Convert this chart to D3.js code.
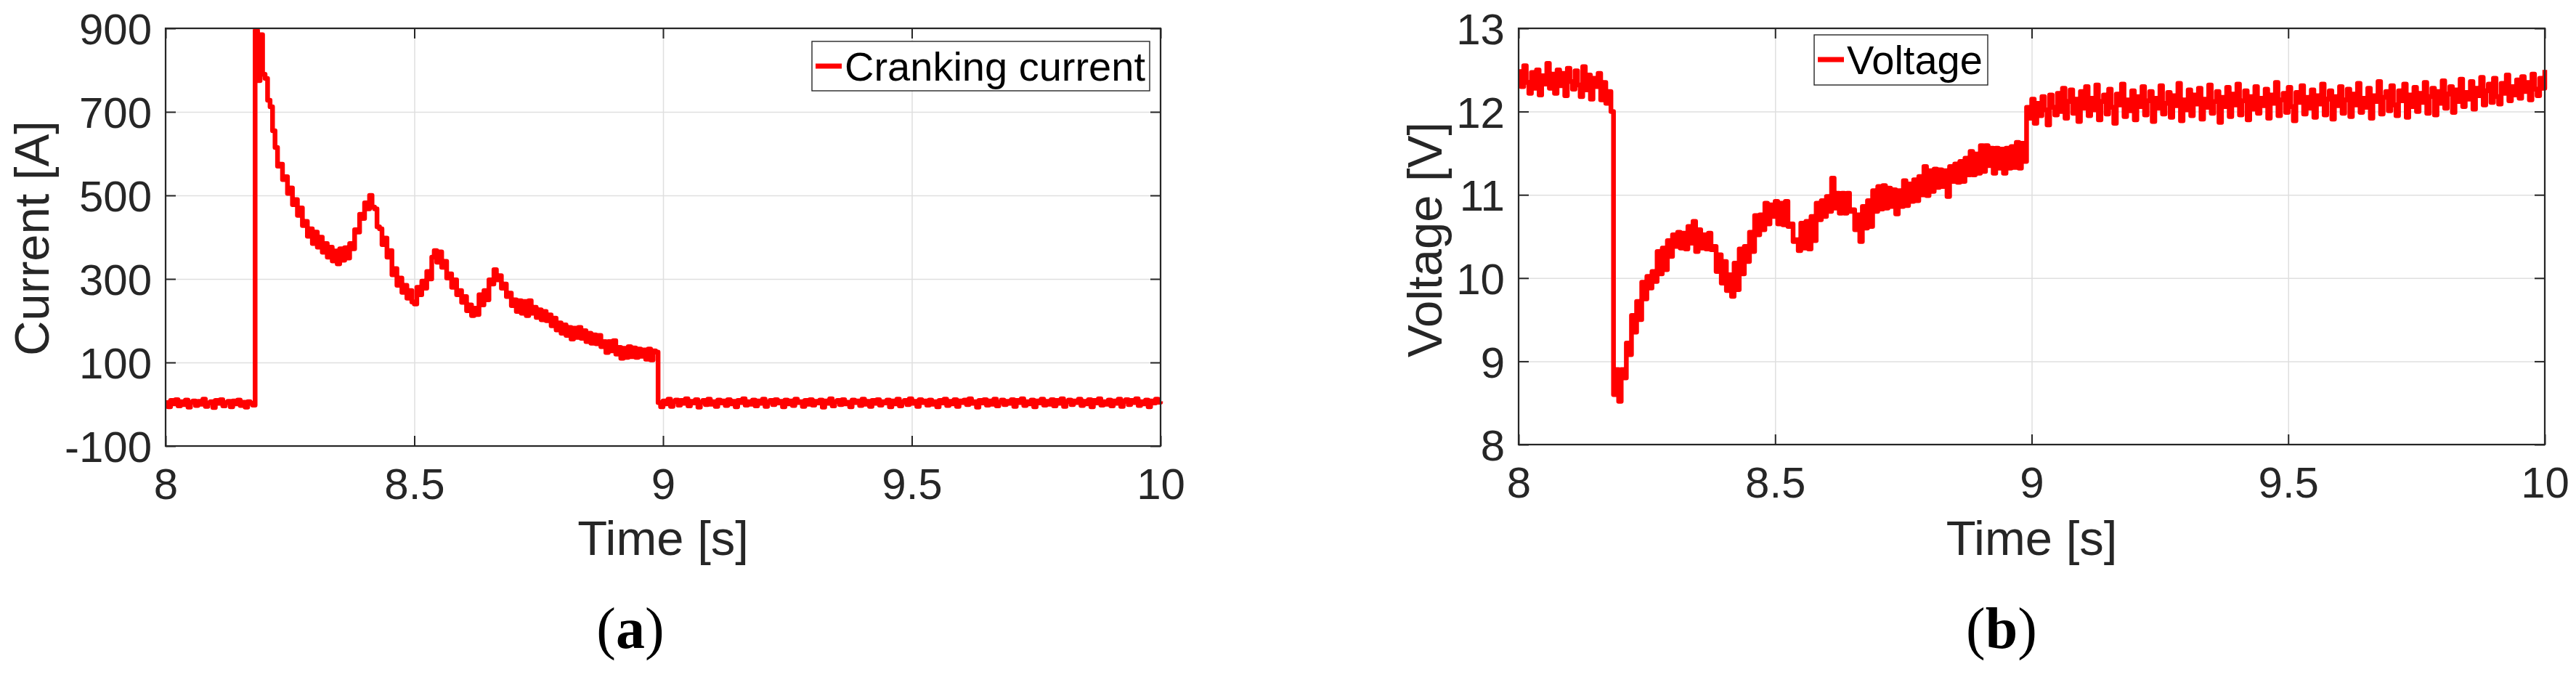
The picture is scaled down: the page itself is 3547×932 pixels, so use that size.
<!DOCTYPE html>
<html>
<head>
<meta charset="utf-8">
<script src="https://cdn.jsdelivr.net/npm/d3@7"></script>
<style>
  html, body { margin: 0; padding: 0; background: #fff; }
  svg { display: block; }
</style>
</head>
<body>
<div id="chart"></div>
<script>
// tick values
var timeTicks = [8, 8.5, 9, 9.5, 10];
var currentTicks = [-100, 100, 300, 500, 700, 900];
var voltageTicks = [8, 9, 10, 11, 12, 13];

// cranking current [A], 5 ms apart inside each segment
var currentIdle = [4, -6, 9, 1, 11, -4, 6, -1, 10, -7, 5, 8, -3, 7, 0, 12, -5, 3, 6, -8,
  9, 2, 11, -4, 4, 7, -6, 8, 1, 10, -3, 5, -7, 6, 2, -2];            // 8.000 - 8.175 s
var currentCrank = [895, 775, 885, 790, 780, 728, 712, 655, 615, 570,
  575, 538, 545, 505, 518, 478, 490, 452, 470, 428,
  438, 402, 420, 385, 412, 376, 400, 364, 385, 352,
  376, 343, 367, 336, 372, 345, 375, 350, 385, 372,
  418, 412, 455, 445, 482, 468, 500, 472, 468, 425,
  420, 382, 398, 352, 368, 310, 325, 285, 302, 268,
  285, 254, 272, 245, 240, 280, 262, 295, 278, 318,
  300, 352, 368, 340, 365, 328, 342, 302, 312, 280,
  298, 262, 272, 244, 258, 224, 238, 212, 230, 215,
  262, 238, 272, 250, 298, 288, 322, 298, 308, 278,
  288, 258, 266, 236, 250, 222, 248, 218, 246, 212,
  248, 218, 232, 208, 226, 202, 222, 200, 214, 188,
  206, 178, 195, 170, 190, 165, 184, 156, 182, 160,
  184, 158, 176, 150, 170, 146, 166, 145, 165, 138,
  150, 124, 150, 128, 152, 120, 136, 110, 134, 112,
  138, 114, 135, 112, 132, 115, 130, 108, 132, 106,
  128, 125];                                                         // 8.180 - 8.985 s
var currentAfter = [4, -6,
  8, 1, 12, -5, 6, 10, -2, 9, 2, 13,
  -4, 7, 3, 11, -7, 5, 9, -1, 12, 0,
  6, -5, 10, 3, 8, -3, 11, 1, 7, -6,
  9, 4, 13, -2, 6, 0, 10, -4, 8, 2,
  12, -5, 5, 9, -1, 11, 3, 7, -6, 10,
  1, 8, -3, 12, 4, 6, -5, 9, 0, 11,
  -2, 7, 3, 10, -7, 8, 2, 13, -4, 6,
  9, -1, 11, 1, 5, -6, 10, 4, 8, -3,
  12, 0, 7, -5, 9, 2, 11, -2, 6, 3,
  10, -6, 8, 1, 12, -4, 5, 9, -1, 13,
  2, 7, -5, 11, 4, 8, -2, 10, 0, 6,
  -6, 9, 3, 12, -3, 7, 1, 11, -5, 8,
  4, 10, -1, 13, 2, 6, -7, 9, 3, 11,
  -2, 8, 0, 12, -4, 5, 10, -1, 7, 2,
  11, -5, 9, 4, 13, -3, 6, 1, 10, -6,
  8, 3, 12, -2, 7, 0, 11, -4, 9, 2,
  13, -5, 6, 10, -1, 8, 4, 12, -3, 7,
  1, 11, -6, 9, 3, 13, -2, 6, 0, 10,
  -4, 8, 2, 12, -5, 7, 11, -1, 9, 4,
  13, -3, 6, 1, 10, -6, 8, 3, 12, 5,
  7];                                                                // 8.990 - 10.000 s

// battery voltage [V]
var voltageIdle = [12.48, 12.30, 12.55, 12.35, 12.22, 12.47, 12.28, 12.50, 12.20, 12.43,
  12.33, 12.58, 12.28, 12.45, 12.22, 12.50, 12.31, 12.46, 12.19, 12.52,
  12.36, 12.27, 12.49, 12.32, 12.18, 12.54, 12.26, 12.44, 12.15, 12.40,
  12.30, 12.46, 12.14, 12.35, 12.10, 12.24, 12.00];                 // 8.000 - 8.180 s
var voltageCrank = [8.60, 8.90, 8.52, 8.90, 8.80, 9.22, 9.08, 9.55, 9.35, 9.72,
  9.50, 9.95, 9.75, 10.02, 9.88, 10.08, 9.96, 10.32, 10.05, 10.36,
  10.10, 10.45, 10.26, 10.52, 10.38, 10.55, 10.36, 10.54, 10.35, 10.62,
  10.42, 10.68, 10.32, 10.58, 10.36, 10.52, 10.35, 10.54, 10.34, 10.38,
  10.08, 10.28, 9.94, 10.20, 9.85, 10.04, 9.78, 10.18, 9.86, 10.35,
  10.05, 10.38, 10.20, 10.55, 10.32, 10.75, 10.52, 10.76, 10.58, 10.90,
  10.65, 10.88, 10.74, 10.92, 10.65, 10.90, 10.64, 10.92, 10.62, 10.65,
  10.44, 10.46, 10.33, 10.66, 10.36, 10.68, 10.35, 10.74, 10.45, 10.90,
  10.70, 10.93, 10.74, 10.98, 10.80, 11.20, 10.84, 11.02, 10.78, 11.02,
  10.78, 11.02, 10.80, 10.82, 10.58, 10.76, 10.44, 10.86, 10.60, 10.93,
  10.62, 11.05, 10.80, 11.10, 10.83, 11.11, 10.84, 11.08, 10.86, 11.06,
  10.77, 11.05, 10.86, 11.17, 10.87, 11.13, 10.92, 11.18, 10.93, 11.22,
  11.00, 11.34, 10.99, 11.29, 11.04, 11.31, 11.09, 11.30, 11.10, 11.29,
  10.98, 11.34, 11.16, 11.37, 11.15, 11.40, 11.16, 11.44, 11.24, 11.52,
  11.24, 11.49, 11.26, 11.59, 11.28, 11.59, 11.35, 11.56, 11.26, 11.56,
  11.32, 11.55, 11.26, 11.56, 11.32, 11.58, 11.33, 11.63, 11.32, 11.62,
  11.40];                                                            // 8.185 - 8.985 s
var voltageAfter = [12.05, 11.92,
  12.15, 11.86, 12.10, 11.95, 12.18, 12.02, 11.84, 12.20, 12.05, 11.96,
  12.22, 12.00, 12.28, 11.92, 12.12, 12.26, 11.98, 12.15, 11.88, 12.24,
  12.04, 12.30, 11.95, 12.16, 12.02, 12.32, 11.90, 12.12, 12.20, 11.97,
  12.27, 12.05, 11.86, 12.21, 12.08, 12.33, 11.94, 12.14, 12.01, 12.25,
  11.90, 12.18, 12.06, 12.30, 11.96, 12.13, 12.24, 11.88, 12.16, 12.04,
  12.31, 11.97, 12.10, 12.23, 11.93, 12.19, 12.07, 12.34, 11.89, 12.14,
  12.02, 12.26, 11.95, 12.20, 12.09, 12.28, 11.91, 12.15, 12.05, 12.32,
  11.98, 12.12, 12.24, 11.87, 12.17, 12.06, 12.29, 11.94, 12.21, 12.08,
  12.33, 11.96, 12.13, 12.25, 11.90, 12.18, 12.03, 12.30, 11.98, 12.16,
  12.07, 12.27, 11.92, 12.20, 12.10, 12.35, 11.95, 12.14, 12.22, 11.99,
  12.29, 12.06, 11.89, 12.23, 12.11, 12.31, 11.97, 12.17, 12.04, 12.26,
  11.93, 12.19, 12.09, 12.33, 11.96, 12.15, 12.25, 11.91, 12.18, 12.07,
  12.30, 11.98, 12.14, 12.27, 11.94, 12.21, 12.08, 12.34, 11.99, 12.16,
  12.05, 12.28, 11.92, 12.19, 12.12, 12.36, 11.97, 12.17, 12.24, 12.01,
  12.31, 12.08, 11.95, 12.25, 12.13, 12.33, 11.93, 12.20, 12.06, 12.29,
  12.00, 12.22, 12.11, 12.35, 11.98, 12.18, 12.28, 11.96, 12.24, 12.10,
  12.37, 12.04, 12.21, 12.30, 11.99, 12.26, 12.12, 12.39, 12.06, 12.23,
  12.15, 12.36, 12.03, 12.28, 12.19, 12.41, 12.08, 12.25, 12.33, 12.11,
  12.40, 12.18, 12.09, 12.34, 12.22, 12.44, 12.13, 12.30, 12.20, 12.38,
  12.16, 12.42, 12.24, 12.35, 12.14, 12.45, 12.27, 12.19, 12.40, 12.28,
  12.50];                                                            // 8.990 - 10.000 s

// spread a segment's samples evenly between its start and end time
function toPoints(values, t0, t1) {
  var n = values.length;
  return values.map(function(v, i) { return {t: t0 + (t1 - t0) * i / (n - 1), v: v}; });
}

var currentData = toPoints(currentIdle, 8.0, 8.175)
  .concat(toPoints(currentCrank, 8.18, 8.985), toPoints(currentAfter, 8.99, 10.0));
var voltageData = toPoints(voltageIdle, 8.0, 8.18)
  .concat(toPoints(voltageCrank, 8.185, 8.985), toPoints(voltageAfter, 8.99, 10.0));

var width = 3547, height = 932;
var font = "'Liberation Sans', Arial, Helvetica, sans-serif";
var ink = "#262626";

var svg = d3.select("#chart").append("svg")
  .attr("width", width)
  .attr("height", height);
svg.append("rect").attr("width", width).attr("height", height).attr("fill", "#fff");

function drawPanel(p) {
  var x = d3.scaleLinear().domain([8, 10]).range([p.left, p.right]);
  var y = d3.scaleLinear().domain(p.yDomain).range([p.bottom, p.top]);
  var w = p.right - p.left, h = p.bottom - p.top;
  var g = svg.append("g");

  // grid lines
  var gx = g.append("g")
    .attr("transform", "translate(0," + p.bottom + ")")
    .call(d3.axisBottom(x).tickValues(timeTicks).tickSize(-h).tickFormat(""));
  var gy = g.append("g")
    .attr("transform", "translate(" + p.left + ",0)")
    .call(d3.axisLeft(y).tickValues(p.yTicks).tickSize(-w).tickFormat(""));
  [gx, gy].forEach(function(a) {
    a.select(".domain").remove();
    a.selectAll("line").attr("stroke", "#dfdfdf").attr("stroke-width", 1.5);
  });

  // the trace, drawn as stairs like the sampled record
  svg.append("clipPath").attr("id", p.id + "-clip")
    .append("rect").attr("x", p.left).attr("y", p.top - 3).attr("width", w + 5).attr("height", h + 3);
  var line = d3.line()
    .curve(d3.curveStepAfter)
    .x(function(d) { return x(d.t); })
    .y(function(d) { return y(d.v); });
  g.append("path")
    .datum(p.data)
    .attr("clip-path", "url(#" + p.id + "-clip)")
    .attr("fill", "none")
    .attr("stroke", "#ff0000")
    .attr("stroke-width", 6.5)
    .attr("stroke-linejoin", "round")
    .attr("d", line);

  // inward ticks on all four sides
  var bottom = g.append("g")
    .attr("transform", "translate(0," + p.bottom + ")")
    .call(d3.axisBottom(x).tickValues(timeTicks).tickSize(-14).tickFormat(function(d) { return String(d); }));
  var top = g.append("g")
    .attr("transform", "translate(0," + p.top + ")")
    .call(d3.axisTop(x).tickValues(timeTicks).tickSize(-14).tickFormat(""));
  var left = g.append("g")
    .attr("transform", "translate(" + p.left + ",0)")
    .call(d3.axisLeft(y).tickValues(p.yTicks).tickSize(-14).tickFormat(function(d) { return String(d); }));
  var right = g.append("g")
    .attr("transform", "translate(" + p.right + ",0)")
    .call(d3.axisRight(y).tickValues(p.yTicks).tickSize(-14).tickFormat(""));
  [bottom, top, left, right].forEach(function(a) {
    a.select(".domain").remove();
    a.selectAll("line").attr("stroke", ink).attr("stroke-width", 2);
    a.selectAll("text").attr("fill", ink).attr("font-family", font).attr("font-size", 60);
  });
  bottom.selectAll("text").attr("y", 73).attr("dy", null);
  left.selectAll("text").attr("x", -19).attr("dy", "0.36em");

  // axes box
  g.append("rect")
    .attr("x", p.left).attr("y", p.top)
    .attr("width", w).attr("height", h)
    .attr("fill", "none")
    .attr("stroke", ink)
    .attr("stroke-width", 2.2);

  // axis titles
  g.append("text")
    .attr("x", (p.left + p.right) / 2)
    .attr("y", 764)
    .attr("text-anchor", "middle")
    .attr("font-family", font).attr("font-size", 67).attr("fill", ink)
    .text("Time [s]");
  g.append("text")
    .attr("transform", "translate(" + p.yTitleX + "," + p.yTitleY + ") rotate(-90)")
    .attr("text-anchor", "middle")
    .attr("font-family", font).attr("font-size", 67).attr("fill", ink)
    .text(p.yTitle);

  // legend
  var lg = g.append("g");
  lg.append("rect")
    .attr("x", p.legend.x).attr("y", p.legend.y)
    .attr("width", p.legend.w).attr("height", p.legend.h)
    .attr("fill", "#fff").attr("stroke", ink).attr("stroke-width", 1.4);
  lg.append("line")
    .attr("x1", p.legend.x + 5).attr("x2", p.legend.x + 41)
    .attr("y1", p.legend.y + 34).attr("y2", p.legend.y + 34)
    .attr("stroke", "#ff0000").attr("stroke-width", 7);
  lg.append("text")
    .attr("x", p.legend.x + 45)
    .attr("y", p.legend.y + 54)
    .attr("font-family", font).attr("font-size", 56).attr("fill", "#000")
    .text(p.legendLabel);

  // sub-figure caption
  var cap = g.append("text")
    .attr("x", p.captionX).attr("y", 892)
    .attr("text-anchor", "middle")
    .attr("font-family", "'Liberation Serif', 'Times New Roman', serif")
    .attr("font-size", 80).attr("fill", "#000");
  cap.append("tspan").text("(");
  cap.append("tspan").attr("font-weight", "bold").text(p.caption);
  cap.append("tspan").text(")");
}

drawPanel({
  id: "current", data: currentData,
  left: 228, right: 1598, top: 39, bottom: 614,
  yDomain: [-100, 900], yTicks: currentTicks,
  yTitle: "Current [A]", yTitleX: 67, yTitleY: 328,
  legendLabel: "Cranking current", legend: {x: 1118, y: 57, w: 465, h: 68},
  caption: "a", captionX: 868
});

drawPanel({
  id: "voltage", data: voltageData,
  left: 2091, right: 3504, top: 39, bottom: 612,
  yDomain: [8, 13], yTicks: voltageTicks,
  yTitle: "Voltage [V]", yTitleX: 1985, yTitleY: 330,
  legendLabel: "Voltage", legend: {x: 2498, y: 48, w: 239, h: 69},
  caption: "b", captionX: 2756
});
</script>
</body>
</html>
